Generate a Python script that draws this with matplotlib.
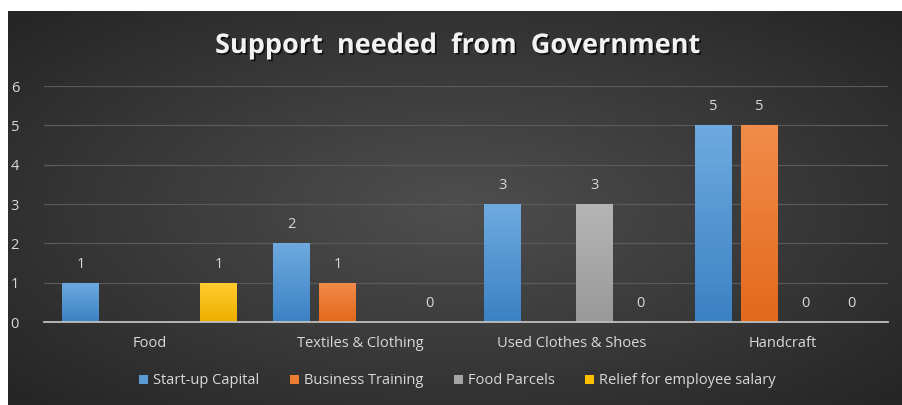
import numpy as np
import matplotlib
matplotlib.use("Agg")
import matplotlib.pyplot as plt
import matplotlib.patheffects as pe
from matplotlib.colors import LinearSegmentedColormap
from matplotlib.patches import Patch

plt.rcParams['font.family'] = ['Open Sans', 'DejaVu Sans']

categories = ["Food", "Textiles & Clothing", "Used Clothes & Shoes", "Handcraft"]
series_names = ["Start-up Capital", "Business Training", "Food Parcels",
                "Relief for employee salary"]

# blank cells in the sheet -> nan (no bar, no label)
startup_capital = [1, 2, 3, 5]
business_training = [np.nan, 1, np.nan, 5]
food_parcels = [np.nan, np.nan, 3, 0]
relief_salary = [1, 0, 0, 0]
all_series = [startup_capital, business_training, food_parcels, relief_salary]

yticks = [0, 1, 2, 3, 4, 5, 6]

# (top, bottom) colours for each series' bar gradient
bar_colors = [("#6eaae0", "#3b82c4"),
              ("#f28c4a", "#e2691c"),
              ("#b5b5b5", "#999999"),
              ("#ffcb2e", "#eeb000")]
legend_colors = ["#5b9bd5", "#ed7d31", "#a5a5a5", "#ffc000"]

fig = plt.figure(figsize=(9.02, 4.05), dpi=100)
fig.patch.set_facecolor("white")

# dark chart area with a soft radial glow
bg = fig.add_axes([8 / 902, 0, 1 - 8 / 902, (405 - 11) / 405], zorder=-1)
gx, gy = np.meshgrid(np.linspace(-1, 1, 400), np.linspace(-1, 1, 200))
r = np.sqrt((gx * 0.95) ** 2 + (gy * 0.9) ** 2)
bg_cmap = LinearSegmentedColormap.from_list("bg", ["#4e4e4e", "#3a3a3a", "#252525"])
bg.imshow(np.clip(r, 0, 1.3), cmap=bg_cmap, aspect="auto", extent=(0, 1, 0, 1))
bg.set_axis_off()

ax = fig.add_axes([44 / 902, (405 - 322) / 405, (888 - 44) / 902, (322 - 86) / 405])
ax.set_facecolor("none")

x = np.arange(len(categories))
n = len(all_series)
pitch = 0.218
width = 0.171

for i, (vals, name, (c_top, c_bot)) in enumerate(zip(all_series, series_names, bar_colors)):
    pos = x + (i - (n - 1) / 2) * pitch
    h = np.array(vals, dtype=float)
    bars = ax.bar(pos, np.nan_to_num(h), width, color=legend_colors[i], zorder=3)
    grad_cmap = LinearSegmentedColormap.from_list("g%d" % i, [c_bot, c_top])
    for b, v, xp in zip(bars, h, pos):
        if np.isnan(v):
            b.set_visible(False)
            continue
        if v > 0:
            im = ax.imshow(np.linspace(0, 1, 64).reshape(-1, 1), cmap=grad_cmap,
                           origin="lower", aspect="auto",
                           extent=(xp - width / 2, xp + width / 2, 0, v), zorder=3)
            im.set_clip_path(b)
        ax.annotate("%d" % v, (xp, v), xytext=(0, 8), textcoords="offset points",
                    ha="center", va="bottom", color="#d9d9d9", fontsize=10.5)

ax.set_xlim(-0.5, len(categories) - 0.5)
ax.set_ylim(0, 6)
ax.set_yticks(yticks)
ax.set_xticks(x)
ax.set_xticklabels(categories)
ax.tick_params(axis="both", length=0, colors="#d9d9d9", labelsize=10.5)
ax.tick_params(axis="y", pad=18)
ax.tick_params(axis="x", pad=10)

ax.grid(axis="y", color="#5a5a5a", lw=0.9, zorder=0)
for s in ["top", "right", "left"]:
    ax.spines[s].set_visible(False)
ax.spines["bottom"].set_color("#bfbfbf")
ax.spines["bottom"].set_linewidth(1.3)
ax.spines["bottom"].set_zorder(4)

handles = [Patch(facecolor=c, label=nm) for c, nm in zip(legend_colors, series_names)]
ax.legend(handles=handles, loc="center", bbox_to_anchor=(0.49, -0.25), ncol=4,
          frameon=False, fontsize=10.5, handlelength=0.6, handleheight=0.6,
          handletextpad=0.35, columnspacing=2.1, labelcolor="#d9d9d9")

fig.text(458 / 902, (405 - 46) / 405, "Support  needed  from  Government", ha="center",
         va="center", color="#f2f2f2", fontsize=19.5, fontweight="bold",
         path_effects=[pe.withSimplePatchShadow(offset=(1.2, -1.2), shadow_rgbFace="black",
                                                 alpha=0.7)])

plt.savefig("out.png", dpi=100)
